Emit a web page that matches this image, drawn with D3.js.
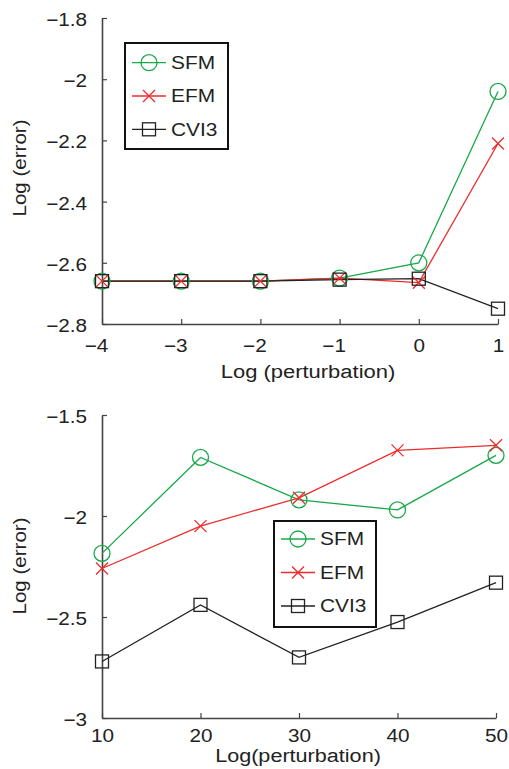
<!DOCTYPE html>
<html><head><meta charset="utf-8">
<script src="https://cdn.jsdelivr.net/npm/d3@7"></script>
<style>body{margin:0;background:#fff}text{font-family:"Liberation Sans",Arial,sans-serif;fill:#222}</style>
</head><body>
<script>
// Top chart data
const topX = [-4, -3, -2, -1, 0, 1];
const topSFM = [-2.66, -2.66, -2.66, -2.65, -2.60, -2.04];
const topEFM = [-2.66, -2.66, -2.66, -2.65, -2.665, -2.21];
const topCVI3 = [-2.66, -2.66, -2.66, -2.655, -2.652, -2.75];
const topYTicks = [-1.8, -2, -2.2, -2.4, -2.6, -2.8];
const topXTicks = [-4, -3, -2, -1, 0, 1];
// Bottom chart data
const botX = [10, 20, 30, 40, 50];
const botSFM = [-2.185, -1.71, -1.92, -1.97, -1.70];
const botEFM = [-2.26, -2.05, -1.91, -1.675, -1.65];
const botCVI3 = [-2.72, -2.44, -2.70, -2.525, -2.33];
const botYTicks = [-1.5, -2, -2.5, -3];
const botXTicks = [10, 20, 30, 40, 50];
const seriesNames = ["SFM", "EFM", "CVI3"];
const colors = {SFM: "#19a84a", EFM: "#ee2b2b", CVI3: "#222"};

const svg = d3.select("body").append("svg").attr("width", 509).attr("height", 769);
const fmt = v => String(v).replace("-", "\u2212");

function stretch(sel, k) {
  sel.each(function() {
    const len = this.getComputedTextLength();
    d3.select(this).attr("textLength", len * k).attr("lengthAdjust", "spacingAndGlyphs");
  });
}

function marker(g, name, x, y) {
  const c = colors[name];
  if (name === "SFM") g.append("circle").attr("cx", x).attr("cy", y).attr("r", 8).attr("fill", "none").attr("stroke", c).attr("stroke-width", 1.3);
  else if (name === "EFM") {
    const s = 6;
    g.append("path").attr("d", `M${x-s},${y-s}L${x+s},${y+s}M${x-s},${y+s}L${x+s},${y-s}`).attr("stroke", c).attr("stroke-width", 1.3);
  } else g.append("rect").attr("x", x-6.5).attr("y", y-6.5).attr("width", 13).attr("height", 13).attr("fill", "none").attr("stroke", c).attr("stroke-width", 1.3);
}

function chart(opt) {
  const g = svg.append("g");
  const x = d3.scaleLinear().domain(opt.xDom).range(opt.xRange);
  const y = d3.scaleLinear().domain(opt.yDom).range(opt.yRange);
  const xAx = g.append("g").attr("transform", `translate(0,${opt.yRange[0]})`)
    .call(d3.axisBottom(x).tickValues(opt.xTicks).tickSizeInner(-5).tickSizeOuter(0).tickPadding(opt.xPad).tickFormat(fmt));
  const yAx = g.append("g").attr("transform", `translate(${opt.xRange[0]},0)`)
    .call(d3.axisLeft(y).tickValues(opt.yTicks).tickSizeInner(-5).tickSizeOuter(0).tickPadding(15).tickFormat(fmt));
  [xAx, yAx].forEach(a => {
    a.select(".domain").attr("stroke", "#444").attr("stroke-width", 1.6);
    a.selectAll(".tick line").attr("stroke", "#444").attr("stroke-width", 1.2);
    a.selectAll("text").style("font-size", "18px").attr("fill", "#222");
    stretch(a.selectAll("text"), 1.15);
  });
  xAx.selectAll(".tick").filter(d => d < 0).select("text").attr("x", -6);
  yAx.selectAll(".tick text").attr("dy", "0.42em");
  const xl = g.append("text").attr("x", opt.xLabelX).attr("y", opt.xLabelY).attr("text-anchor", "middle").style("font-size", "18px").text(opt.xLabel);
  stretch(xl, opt.xLabelK);
  const yl = g.append("text").attr("transform", `translate(26,${opt.yLabelY}) rotate(-90)`).attr("text-anchor", "middle").style("font-size", "18px").text("Log (error)");
  stretch(yl, 1.14);
  const line = d3.line().x((d, i) => x(opt.xs[i])).y(d => y(d));
  seriesNames.forEach(n => {
    g.append("path").attr("d", line(opt.data[n])).attr("fill", "none").attr("stroke", colors[n]).attr("stroke-width", 1.3);
  });
  seriesNames.forEach(n => {
    opt.data[n].forEach((v, i) => marker(g, n, x(opt.xs[i]), y(v)));
  });
  // legend
  const L = opt.legend;
  g.append("rect").attr("x", L.x).attr("y", L.y).attr("width", L.w).attr("height", L.h).attr("fill", "#fff").attr("stroke", "#111").attr("stroke-width", 2);
  seriesNames.forEach((n, i) => {
    const yy = L.y + L.first + i * L.step;
    g.append("line").attr("x1", L.x + 7).attr("x2", L.x + 41).attr("y1", yy).attr("y2", yy).attr("stroke", colors[n]).attr("stroke-width", 1.3);
    marker(g, n, L.x + 24, yy);
    const t = g.append("text").attr("x", L.x + 46).attr("y", yy).attr("dy", "0.36em").style("font-size", "18px").text(n);
    stretch(t, 1.16);
  });
}

chart({
  xDom: [-4, 1], xRange: [102, 498], yDom: [-2.8, -1.8], yRange: [324, 18],
  xTicks: topXTicks, yTicks: topYTicks, xs: topX,
  data: {SFM: topSFM, EFM: topEFM, CVI3: topCVI3},
  xPad: 15, xLabel: "Log (perturbation)", xLabelX: 308, xLabelY: 378, xLabelK: 1.22, yLabelY: 168,
  legend: {x: 125, y: 43, w: 103, h: 106, first: 19.7, step: 33.3}
});
chart({
  xDom: [10, 50], xRange: [102, 496], yDom: [-3, -1.5], yRange: [718, 415],
  xTicks: botXTicks, yTicks: botYTicks, xs: botX,
  data: {SFM: botSFM, EFM: botEFM, CVI3: botCVI3},
  xPad: 11, xLabel: "Log(perturbation)", xLabelX: 298, xLabelY: 762, xLabelK: 1.2, yLabelY: 566,
  legend: {x: 274, y: 521, w: 102, h: 106, first: 18, step: 33.5}
});
</script>
</body></html>
